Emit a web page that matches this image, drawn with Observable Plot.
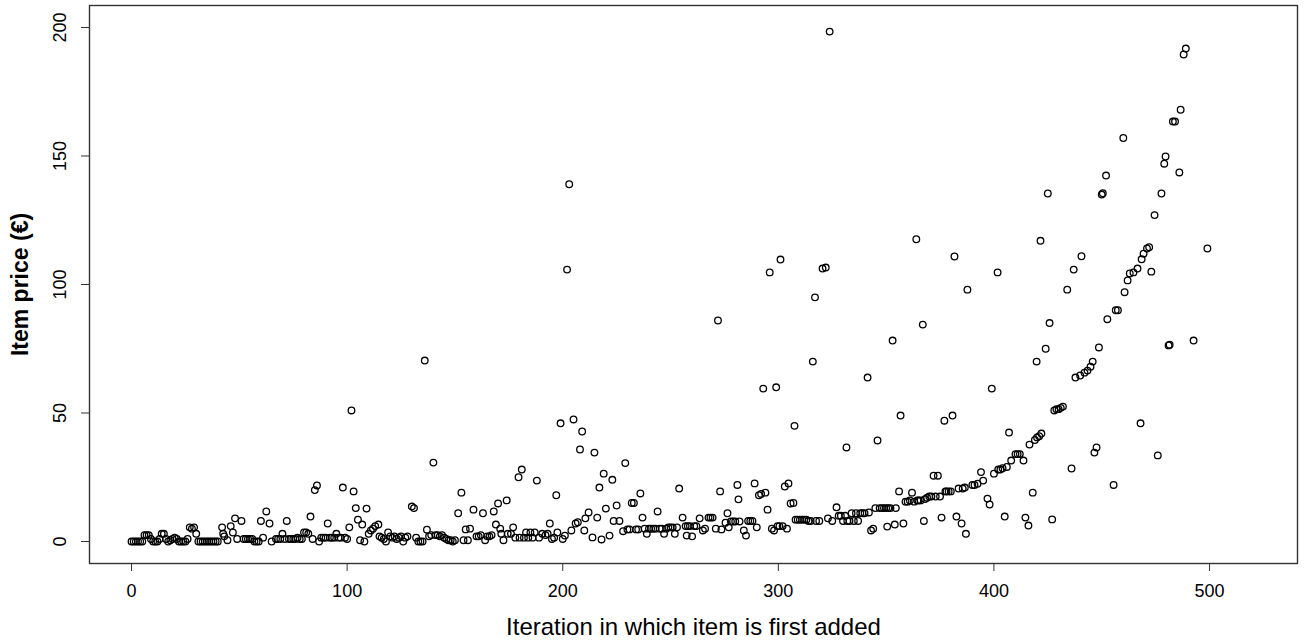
<!DOCTYPE html>
<html>
<head>
<meta charset="utf-8">
<script src="https://cdn.jsdelivr.net/npm/d3@7"></script>
<script src="https://cdn.jsdelivr.net/npm/@observablehq/plot@0.6"></script>
<style>
  html, body { margin: 0; padding: 0; background: white; }
</style>
</head>
<body>
<div id="chart"></div>
<script>
const iteration = [0,1,2,3,4,5,6,7,8,9,10,11,12,13,14,15,16,17,18,19,20,21,22,23,24,25,26,27,28,29,30,31,32,33,34,35,36,37,38,39,40,42,42.5,43,44.5,46,47,48,49,51,52,53,54,55,56,57,58,59,60,61,62.5,64,65,67,68,69,70,71,72,73,74,75,76,77,78,79,80,81,82,83,84,85,86,87,88,89,90,91,92,93,94,95,96,97,98,99,100,101,102,103,104,105,106,107,108,109,110,111,112,113,114.5,115,116,117,118,119,120,121,122,123,124,125,126,127,128,130,131,132,133,134,135,136,137,138,139,140,141,142,143,144,145,146,147,148,149,150,151.5,153,154,155,156,157,158.6,160,161,162,163,164,165,166,167,168,169,170,171,171.5,172.5,174,174.5,176,177,178,179.5,180,181,182,183,184,185,186,187,188,189,190.5,192,193,194,195,196,197,197.5,199,200,201,202,203,204,205,206,207,208,209,210,210.5,212,213.8,214.7,216,217,218,219,220,221.7,223,223.6,225,226.3,228,229,230,231,232,233,234,235,236,237,238,239,240,241,242,243,244,245,246,247,248,249,250,251,252,253,254,255.6,257,257.5,258,259,260,261,262,263.5,265,266,267.6,268.5,269.5,271,272,273,273.6,275.5,276.4,277,278,279,280,281,281.5,282,284,285,286,287,288,289,290,291,292,293,294,295,296,297,298,299,299.6,300.5,301,302,303,304,304.7,305.7,307,307.5,308,309,310,311,312,313,314,315,316,317,317.5,319,320.5,322,323,323.8,325,327,328,329,330,331,331.6,332,333,334,335,336,337,338,339,340,341.4,342,343,344,345,346,347,348,349,350,350.5,351,352,353,354,354.5,356,356.7,358,359,360,361,362,363,364,364.5,365,366,367,367.5,368,369,370,371,372,373,374,375,375.7,377,377.5,378,379,380,380.8,381.7,382.6,383.6,385,385.5,386.5,387,387.7,390,391,392.4,394,395,397,398,399,400,401.7,402,403,404,405,406,407,408,410,411,412,413.7,414.6,416,416.5,418,419,419.8,420,421,421.6,422,424,425,425.8,427,428,429,430,431,432,434,436,437,437.8,440,440.6,442,443.4,444.8,445.8,446.6,447.6,448.7,450,450.5,452,452.6,455.5,456.5,457.5,460,460.6,462,463,464.7,466.6,468,468.5,469.4,471,472,473,474.5,476,477.7,479,479.6,481,481.5,483,484,486,486.6,488,489,492.6,499];

const price = [0,0,0,0,0,0,2.5,2.5,2.5,1,0,0,0,1,3,3,1,0,0.5,1,1.5,1,0,0,0,0,1,5.5,5,5.5,3,0,0,0,0,0,0,0,0,0,0,5.5,3,2,0.5,6,3.5,9,1,8,1,1,1,1,1,0,0,0,8,1.5,11.7,7,0,1,1,1,3,1,8,1,1,1,1,1.5,1,1,3.5,3.5,3,9.7,1,20,21.8,0,1.5,1.5,1.5,7,1.5,1.5,1.5,3,1.5,1.5,21,1.5,1,5.5,51,19.5,13,8.5,0.5,6.6,0,12.8,3,4.3,5,6,6.6,2,1.5,1,0,3.5,2,1.5,2,1,1.5,2,0,1.5,2,13.6,13,1.5,0,0,0,70.4,4.6,2,2.5,30.7,2.5,2.5,2,2.5,1.5,1,0.5,0.5,0,0.5,11,19,0.5,4.7,0.5,5,12.4,2,2,2.5,11,0.5,2,2,2.5,11.7,6.6,14.8,5,3,0.5,16,3,3,5.5,1.5,25,1.5,28,1.5,3.5,1.5,3.5,1.5,3.5,23.7,1.5,3,2.5,3,7,1,1.5,18,3.5,46,1,2.3,105.8,139,4.3,47.5,7,7.5,35.8,42.8,4.3,9,11.3,1.6,34.6,9.3,21,0.8,26.4,12.8,2.3,24,8,14,8,4,30.5,4.7,4.7,15,15,4.7,4.7,18.7,9.3,5,3,5,5,5,5,11.7,5,5,3,5,5.5,5.5,5.5,3,5.5,20.6,9.3,6,2.3,6,6,2,6,6,9,4.3,5,9.3,9.3,9.3,5,86,19.5,4.7,7.3,11,5.5,7.8,7.8,7.8,22,16.4,7.8,4.3,2.3,8,8,8,22.6,5.5,18,18.5,59.5,19,12.4,104.7,5,4.3,60,6,6,109.7,6,21.4,5,22.6,14.8,15,45,8.5,8.5,8.5,8.5,8.5,8.5,8,8,70,95,8,8,106.2,106.6,9,198.4,8,13.3,10,10,8,10,36.6,8,8,11,8,11,8,11,11,11,63.8,11.3,4.3,5,13,39.3,13,13,13,13,5.8,13,13,78.2,6.6,13,19.5,49,7,15.5,15.5,16,19,15.5,117.6,16,16,16,84.4,8,16.5,17,17.5,17.5,25.6,17.5,25.6,17.5,9.3,47,19.5,19.5,19.5,19.5,49,110.9,9.7,20.6,7,20.6,21,3,98,22,22,22.5,27,23.7,16.7,14.4,59.5,26.4,104.7,28,28,28.5,9.7,29,42.4,31.5,34,34,34,31.5,9.3,6.2,37.7,19,39.5,70,40.5,41,117,42,75,135.4,85,8.6,51,51.5,51.5,52,52.5,98,28.4,105.8,63.8,64.6,111,65.7,66.5,68,70,34.6,36.6,75.5,135,135.5,142.4,86.5,22,90,90,157,97,101.6,104.3,104.7,106.2,46,109.8,112,114,114.5,105,127,33.5,135.4,147,149.8,76.3,76.6,163.4,163.4,143.6,168,189.5,191.8,78.2,114];

const xTicks = [0, 100, 200, 300, 400, 500];
const yTicks = [0, 50, 100, 150, 200];
const xTitle = "Iteration in which item is first added";
const yTitle = "Item price (€)";

const data = iteration.map((x, i) => ({x, y: price[i]}));

const chart = Plot.plot({
  width: 1309,
  height: 642,
  marginLeft: 89,
  marginRight: 12,
  marginTop: 5,
  marginBottom: 79,
  x: {domain: [-19.5, 540.8]},
  y: {domain: [-8.56, 208.56]},
  style: {fontFamily: "'Liberation Sans', Arial, sans-serif", fontSize: "18px", background: "white", color: "black"},
  marks: [
    Plot.dot(data, {x: "x", y: "y", r: 3.3, stroke: "black", strokeWidth: 1.3, fill: "none"}),
    Plot.frame({stroke: "#333", strokeWidth: 1.4}),
    Plot.axisX({ticks: xTicks, tickSize: 8, tickPadding: 13, fontSize: 18, label: null, stroke: "#333", tickFormat: d => String(d)}),
    Plot.axisY({ticks: yTicks, tickSize: 8, label: null, stroke: "#333", tickFormat: () => ""}),
    Plot.text(yTicks, {y: d => d, text: d => String(d), frameAnchor: "left", dx: -29, rotate: -90, fontSize: 18, textAnchor: "middle", lineAnchor: "middle"}),
    Plot.text([yTitle], {text: d => d, frameAnchor: "left", dx: -69, rotate: -90, fontSize: 23, fontWeight: "bold", textAnchor: "middle", lineAnchor: "middle"}),
    Plot.text([xTitle], {text: d => d, frameAnchor: "bottom", dy: 64, fontSize: 24, textAnchor: "middle", lineAnchor: "middle"})
  ]
});
document.getElementById("chart").appendChild(chart);
</script>
</body>
</html>
